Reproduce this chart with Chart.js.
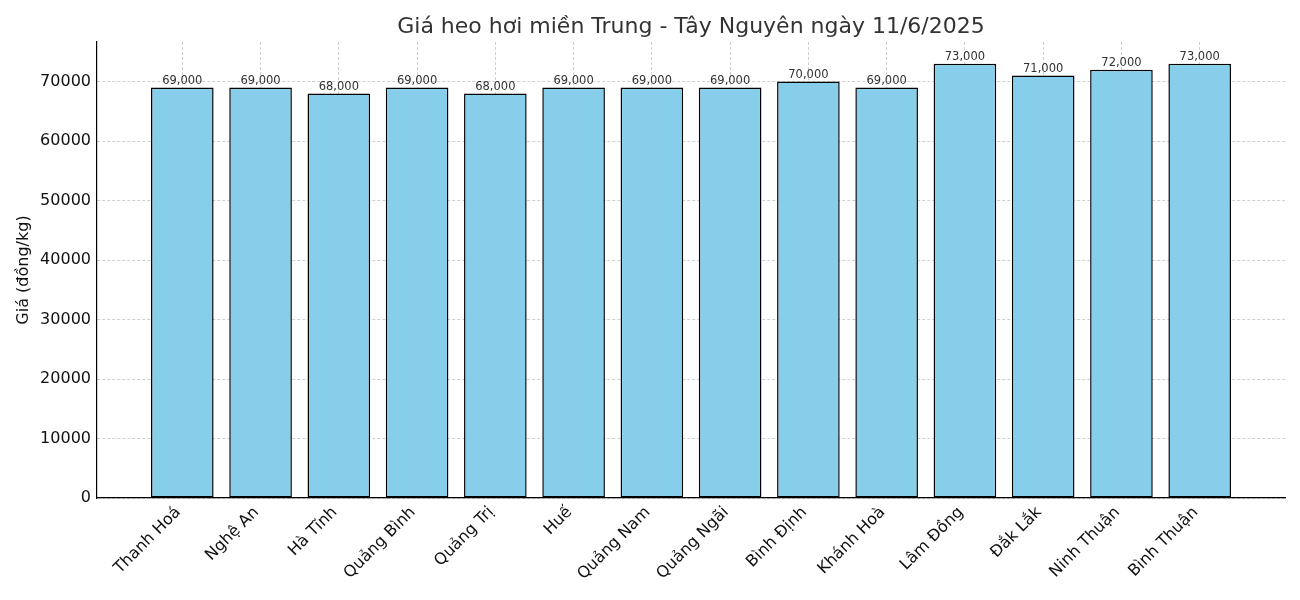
<!DOCTYPE html>
<html>
<head>
<meta charset="utf-8">
<script src="https://cdn.jsdelivr.net/npm/chart.js@4.4.1/dist/chart.umd.min.js"></script>
<style>
  body { margin: 0; background: #fff; }
  #wrap { width: 1300px; height: 600px; }
</style>
</head>
<body>
<div id="wrap"><canvas id="chart"></canvas></div>
<script>
const provinces = ['Thanh Hoá', 'Nghệ An', 'Hà Tĩnh', 'Quảng Bình', 'Quảng Trị', 'Huế', 'Quảng Nam',
  'Quảng Ngãi', 'Bình Định', 'Khánh Hoà', 'Lâm Đồng', 'Đắk Lắk', 'Ninh Thuận', 'Bình Thuận'];
const prices = [69000, 69000, 68000, 69000, 68000, 69000, 69000, 69000, 70000, 69000, 73000, 71000, 72000, 73000];
const yTicks = [0, 10000, 20000, 30000, 40000, 50000, 60000, 70000];

const FONT = "'DejaVu Sans', sans-serif";
const GRID = 'rgba(150,150,150,0.45)';

// nhãn giá trị trên đầu cột + tiêu đề
const barLabels = {
  id: 'barLabels',
  afterDatasetsDraw(chart) {
    const ctx = chart.ctx;
    const meta = chart.getDatasetMeta(0);
    ctx.save();
    ctx.font = "11.5px " + FONT;
    ctx.fillStyle = '#333';
    ctx.textAlign = 'center';
    ctx.textBaseline = 'bottom';
    meta.data.forEach((bar, i) => {
      ctx.fillText(prices[i].toLocaleString('en-US'), bar.x, bar.y - 1);
    });
    ctx.restore();
  },
  afterDraw(chart) {
    const ctx = chart.ctx;
    const a = chart.chartArea;
    ctx.save();
    ctx.font = "22px " + FONT;
    ctx.fillStyle = '#333';
    ctx.textAlign = 'center';
    ctx.textBaseline = 'middle';
    ctx.fillText('Giá heo hơi miền Trung - Tây Nguyên ngày 11/6/2025', (a.left + a.right) / 2, 27);
    ctx.restore();
  },
};

new Chart(document.getElementById('chart'), {
  type: 'bar',
  data: {
    datasets: [{
      data: prices.map((v, i) => ({ x: i, y: v })),
      backgroundColor: '#87CEEB',
      borderColor: '#000',
      borderWidth: 1.5,
      borderSkipped: false,
      barPercentage: 0.8,
      categoryPercentage: 1,
    }],
  },
  options: {
    responsive: true,
    maintainAspectRatio: false,
    animation: false,
    devicePixelRatio: 1,
    layout: { padding: { top: 42, right: 15, left: 0, bottom: 0 } },
    plugins: { legend: { display: false }, tooltip: { enabled: false } },
    scales: {
      x: {
        type: 'linear',
        min: -1.09,
        max: 14.09,
        offset: false,
        z: 1,
        afterBuildTicks: axis => { axis.ticks = provinces.map((_, i) => ({ value: i })); },
        afterFit: axis => { axis.height = 102; },
        ticks: {
          color: '#111',
          font: { size: 16, family: FONT },
          minRotation: 45,
          maxRotation: 45,
          autoSkip: false,
          padding: 5,
          labelOffset: -4,
          callback: v => provinces[v],
        },
        grid: { color: GRID, offset: false, drawTicks: false },
        border: { display: true, color: '#000', width: 1.2, dash: [3, 2] },
      },
      y: {
        min: 0,
        max: 76650,
        z: 1,
        afterBuildTicks: axis => { axis.ticks = yTicks.map(v => ({ value: v })); },
        afterFit: axis => { axis.width = 97; },
        ticks: {
          color: '#111',
          font: { size: 16, family: FONT },
          padding: 6,
          callback: v => String(v),
        },
        title: {
          display: true,
          text: 'Giá (đồng/kg)',
          color: '#111',
          font: { size: 16, family: FONT },
          padding: { top: 14, bottom: 0 },
        },
        grid: { color: GRID, drawTicks: false },
        border: { display: true, color: '#000', width: 1.2, dash: [3, 2] },
      },
    },
  },
  plugins: [barLabels],
});
</script>
</body>
</html>
